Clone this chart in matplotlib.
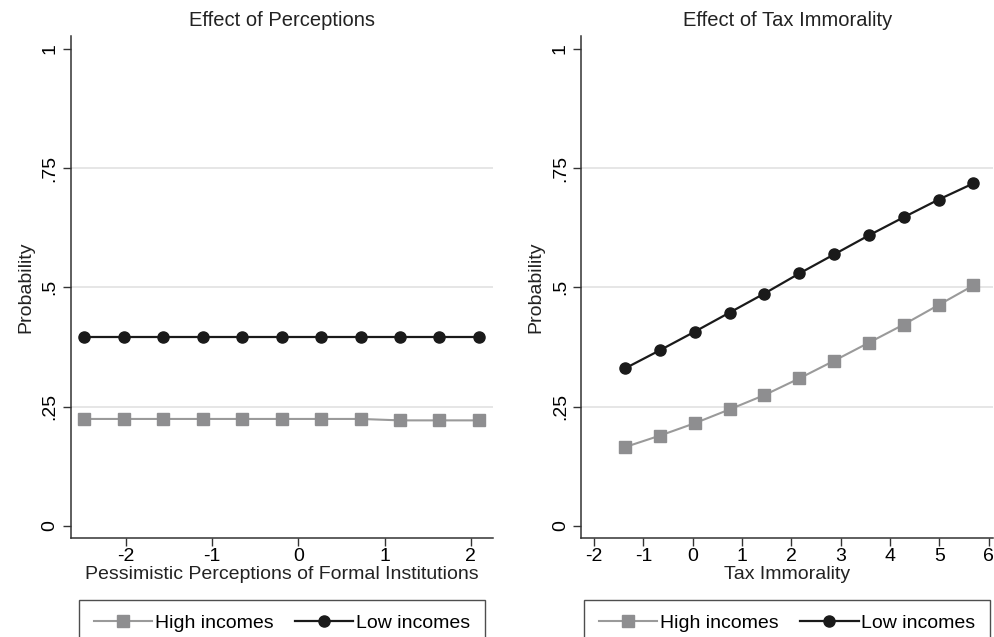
import numpy as np
import matplotlib
matplotlib.use("Agg")
import matplotlib.pyplot as plt

plt.rcParams['font.family'] = ['Liberation Sans', 'DejaVu Sans']

# left panel: perceptions
perc_x = [-2.479, -2.022, -1.565, -1.108, -0.651, -0.194, 0.263, 0.721, 1.178, 1.635, 2.092]
perc_high = [0.224, 0.224, 0.224, 0.224, 0.224, 0.224, 0.224, 0.224, 0.221, 0.221, 0.221]
perc_low = [0.396, 0.396, 0.396, 0.396, 0.396, 0.396, 0.396, 0.396, 0.396, 0.396, 0.396]

# right panel: tax immorality
tax_x = [-1.373, -0.667, 0.040, 0.746, 1.452, 2.159, 2.865, 3.571, 4.277, 4.984, 5.690]
tax_high = [0.165, 0.189, 0.215, 0.244, 0.274, 0.309, 0.346, 0.384, 0.422, 0.463, 0.504]
tax_low = [0.330, 0.368, 0.407, 0.447, 0.487, 0.529, 0.569, 0.609, 0.647, 0.684, 0.718]

yticks = [0, 0.25, 0.5, 0.75, 1]
ytick_labels = ["0", ".25", ".5", ".75", "1"]

GRAY = "#8e8e90"
GRAY_LINE = "#9a9a9a"
BLACK = "#1a1a1a"

fig = plt.figure(figsize=(9.95, 6.37), dpi=100)
ax1 = fig.add_axes([0.0711, 0.1559, 0.4244, 0.7876])
ax2 = fig.add_axes([0.5842, 0.1559, 0.4140, 0.7876])

panels = [
    (ax1, perc_x, perc_high, perc_low, "Effect of Perceptions",
     "Pessimistic Perceptions of Formal Institutions", (-2.637, 2.256), [-2, -1, 0, 1, 2]),
    (ax2, tax_x, tax_high, tax_low, "Effect of Tax Immorality",
     "Tax Immorality", (-2.26, 6.09), [-2, -1, 0, 1, 2, 3, 4, 5, 6]),
]

for ax, x, hi, lo, title, xlabel, xlim, xticks in panels:
    ax.plot(x, hi, color=GRAY_LINE, lw=1.5, marker="s", ms=8,
            mfc=GRAY, mec=GRAY, label="High incomes")
    ax.plot(x, lo, color=BLACK, lw=1.6, marker="o", ms=8,
            mfc=BLACK, mec=BLACK, label="Low incomes")
    for g in [0.25, 0.5, 0.75]:
        ax.axhline(g, color="#e4e4e4", lw=1.3, zorder=0)
    ax.set_xlim(*xlim)
    ax.set_ylim(-0.025, 1.027)
    ax.set_xticks(xticks)
    ax.set_xticklabels([str(t) for t in xticks])
    ax.set_yticks(yticks)
    ax.set_yticklabels(ytick_labels, rotation=90, va="center")
    ax.tick_params(direction="out", length=6, width=1, labelsize=14, color="#333333")
    ax.tick_params(axis="x", pad=1.5)
    ax.tick_params(axis="y", pad=3)
    for s in ["top", "right"]:
        ax.spines[s].set_visible(False)
    for s in ["left", "bottom"]:
        ax.spines[s].set_color("#333333")
        ax.spines[s].set_linewidth(1.1)
    ax.set_title(title, fontsize=14.5, color="#222222", pad=7)
    ax.set_xlabel(xlabel, fontsize=14, color="#222222", labelpad=1)
    ax.set_ylabel("Probability", fontsize=14, color="#222222", labelpad=5)
    leg = ax.legend(loc="upper center", bbox_to_anchor=(0.5, -0.124), ncol=2,
                    fontsize=14, frameon=True, fancybox=False, edgecolor="#222222",
                    handlelength=3.0, columnspacing=1.1, handletextpad=0.15,
                    borderpad=0.75, borderaxespad=0)
    leg.get_frame().set_linewidth(1.0)

fig.savefig("out.png", dpi=100)
